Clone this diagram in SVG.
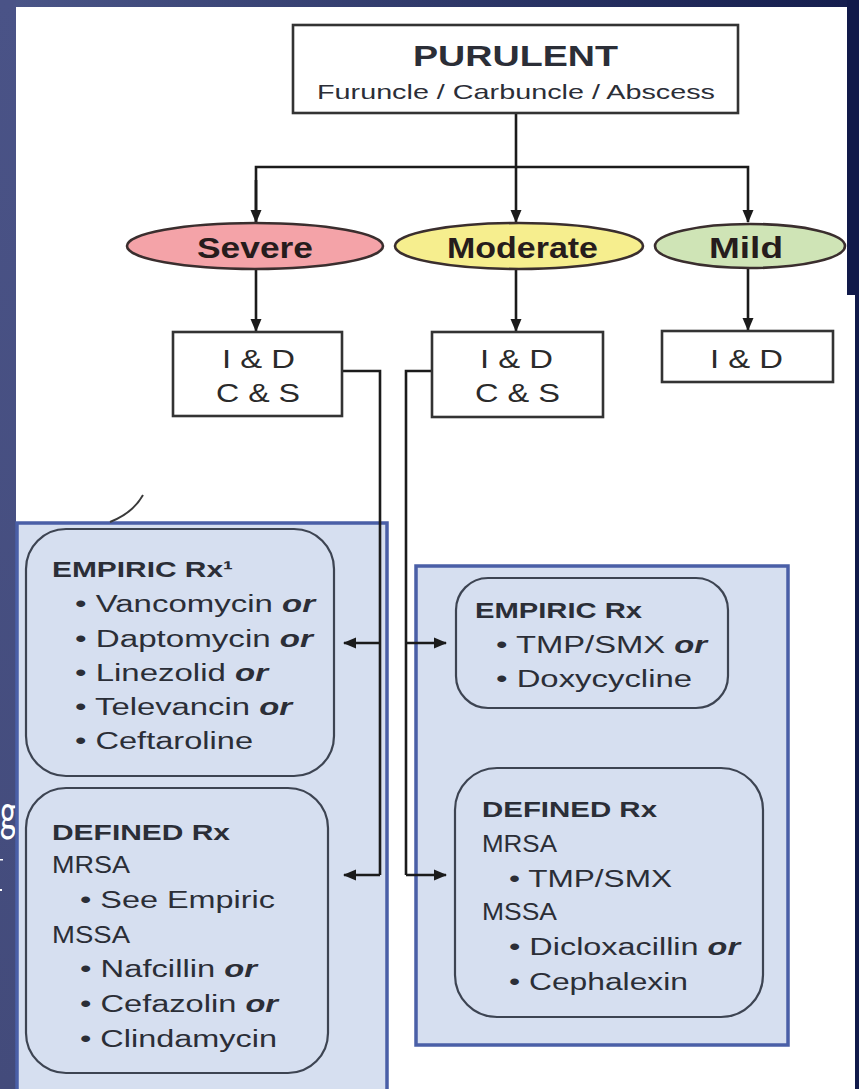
<svg xmlns="http://www.w3.org/2000/svg" width="859" height="1089" viewBox="0 0 859 1089">
  <defs>
    <style>
      .t { font-family: "Liberation Sans", Arial, Helvetica, sans-serif; fill: #2b2e37; }
      .body { font-size: 23px; }
      .hdr { font-size: 22px; font-weight: bold; }
      .or { font-weight: bold; font-style: italic; }
      .sev { font-size: 29px; font-weight: bold; fill: #261c1c; }
      .idt { font-size: 25px; fill: #2a2a2a; }
      .box { fill: #ffffff; stroke: #333333; stroke-width: 2.6; }
      .panel { fill: #d6dff0; stroke: #4a5fa7; stroke-width: 3.5; }
      .rx { fill: none; stroke: #3d4452; stroke-width: 2.2; }
      .wire { fill: none; stroke: #1b1b1b; stroke-width: 2.6; }
      .oval { stroke: #3a2e2e; stroke-width: 2.6; }
    </style>
    <marker id="ah" markerUnits="userSpaceOnUse" markerWidth="13" markerHeight="13" refX="12" refY="6.5" orient="auto">
      <path d="M0,1 L13,6.5 L0,12 Z" fill="#1b1b1b"/>
    </marker>
    <linearGradient id="topbar" x1="0" y1="0" x2="1" y2="0">
      <stop offset="0" stop-color="#4b5688"/>
      <stop offset="1" stop-color="#141d4d"/>
    </linearGradient>
    <linearGradient id="sidebar" x1="0" y1="0" x2="0" y2="1">
      <stop offset="0" stop-color="#4a5387"/>
      <stop offset="1" stop-color="#434b7b"/>
    </linearGradient>
  </defs>

  <!-- page and slide edges -->
  <rect x="0" y="0" width="859" height="1089" fill="#ffffff"/>
  <rect x="0" y="0" width="859" height="7" fill="url(#topbar)"/>
  <rect x="0" y="0" width="16" height="1089" fill="url(#sidebar)"/>
  <path d="M847,0 H859 V1089 H855 V295 H847 Z" fill="#111a4a"/>
  <text x="0" y="830" font-family="Lato, 'Liberation Sans', sans-serif" font-size="50" fill="#ffffff" textLength="16" lengthAdjust="spacingAndGlyphs">g</text>
  <rect x="0" y="859" width="3" height="1.5" fill="#ffffff"/>
  <rect x="0" y="889" width="2" height="2" fill="#ffffff"/>

  <!-- shaded treatment panels -->
  <rect id="panel-left" class="panel" x="17" y="523" width="370" height="600"/>
  <rect id="panel-right" class="panel" x="416" y="566" width="372" height="479"/>

  <!-- small curved stroke above the left panel -->
  <path d="M143,495 Q133,513 110,522" fill="none" stroke="#3a3a3a" stroke-width="2"/>

  <!-- connectors -->
  <g id="connectors">
    <path class="wire" d="M516,113 V222" marker-end="url(#ah)"/>
    <path class="wire" d="M256,222 V167 H748 V222" marker-end="url(#ah)"/>
    <path class="wire" d="M256,180 V222" marker-end="url(#ah)"/>
    <path class="wire" d="M256,269 V331" marker-end="url(#ah)"/>
    <path class="wire" d="M516,270 V331" marker-end="url(#ah)"/>
    <path class="wire" d="M748,268 V330" marker-end="url(#ah)"/>
    <path class="wire" d="M342,371 H380 V875"/>
    <path class="wire" d="M380,643 H344" marker-end="url(#ah)"/>
    <path class="wire" d="M380,875 H344" marker-end="url(#ah)"/>
    <path class="wire" d="M432,371 H406 V875"/>
    <path class="wire" d="M406,643 H446" marker-end="url(#ah)"/>
    <path class="wire" d="M406,875 H446" marker-end="url(#ah)"/>
  </g>

  <!-- root -->
  <g id="node-purulent">
    <rect class="box" x="293" y="25" width="445" height="88"/>
    <text class="t" x="413" y="66" font-size="30" font-weight="bold" fill="#1e1e1e" textLength="205" lengthAdjust="spacingAndGlyphs">PURULENT</text>
    <text class="t" x="317" y="99" font-size="21" fill="#3a3a3a" textLength="398" lengthAdjust="spacingAndGlyphs">Furuncle / Carbuncle / Abscess</text>
  </g>

  <!-- severity levels -->
  <g id="node-severe">
    <ellipse class="oval" cx="255" cy="246" rx="128" ry="23" fill="#f4a3a8"/>
    <text class="t sev" x="197" y="258" textLength="116" lengthAdjust="spacingAndGlyphs">Severe</text>
  </g>
  <g id="node-moderate">
    <ellipse class="oval" cx="519" cy="246" rx="124" ry="23" fill="#f6ee8e"/>
    <text class="t sev" x="447" y="258" textLength="151" lengthAdjust="spacingAndGlyphs">Moderate</text>
  </g>
  <g id="node-mild">
    <ellipse class="oval" cx="750" cy="246" rx="95" ry="22" fill="#cfe4b6"/>
    <text class="t sev" x="709" y="258" textLength="74" lengthAdjust="spacingAndGlyphs">Mild</text>
  </g>

  <!-- procedures -->
  <g id="node-severe-proc">
    <rect class="box" x="173" y="332" width="169" height="84"/>
    <text class="t idt" x="222" y="368" textLength="73" lengthAdjust="spacingAndGlyphs">I &amp; D</text>
    <text class="t idt" x="216" y="402" textLength="84" lengthAdjust="spacingAndGlyphs">C &amp; S</text>
  </g>
  <g id="node-moderate-proc">
    <rect class="box" x="432" y="332" width="171" height="85"/>
    <text class="t idt" x="480" y="368" textLength="73" lengthAdjust="spacingAndGlyphs">I &amp; D</text>
    <text class="t idt" x="475" y="402" textLength="85" lengthAdjust="spacingAndGlyphs">C &amp; S</text>
  </g>
  <g id="node-mild-proc">
    <rect class="box" x="662" y="331" width="171" height="51"/>
    <text class="t idt" x="710" y="368" textLength="73" lengthAdjust="spacingAndGlyphs">I &amp; D</text>
  </g>

  <!-- severe: empiric therapy -->
  <g id="node-severe-empiric">
    <rect class="rx" x="26" y="529" width="308" height="247" rx="40"/>
    <text class="t hdr" x="52" y="577" textLength="181" lengthAdjust="spacingAndGlyphs">EMPIRIC Rx¹</text>
    <text class="t body" x="75" y="612" textLength="240" lengthAdjust="spacingAndGlyphs">• Vancomycin <tspan class="or">or</tspan></text>
    <text class="t body" x="75" y="647" textLength="238" lengthAdjust="spacingAndGlyphs">• Daptomycin <tspan class="or">or</tspan></text>
    <text class="t body" x="75" y="681" textLength="193" lengthAdjust="spacingAndGlyphs">• Linezolid <tspan class="or">or</tspan></text>
    <text class="t body" x="75" y="715" textLength="217" lengthAdjust="spacingAndGlyphs">• Televancin <tspan class="or">or</tspan></text>
    <text class="t body" x="75" y="749" textLength="178" lengthAdjust="spacingAndGlyphs">• Ceftaroline</text>
  </g>

  <!-- severe: defined therapy -->
  <g id="node-severe-defined">
    <rect class="rx" x="26" y="788" width="302" height="285" rx="40"/>
    <text class="t hdr" x="52" y="840" textLength="178" lengthAdjust="spacingAndGlyphs">DEFINED Rx</text>
    <text class="t body" x="52" y="873" textLength="78" lengthAdjust="spacingAndGlyphs">MRSA</text>
    <text class="t body" x="80" y="908" textLength="195" lengthAdjust="spacingAndGlyphs">• See Empiric</text>
    <text class="t body" x="52" y="943" textLength="78" lengthAdjust="spacingAndGlyphs">MSSA</text>
    <text class="t body" x="80" y="977" textLength="177" lengthAdjust="spacingAndGlyphs">• Nafcillin <tspan class="or">or</tspan></text>
    <text class="t body" x="80" y="1012" textLength="198" lengthAdjust="spacingAndGlyphs">• Cefazolin <tspan class="or">or</tspan></text>
    <text class="t body" x="80" y="1047" textLength="197" lengthAdjust="spacingAndGlyphs">• Clindamycin</text>
  </g>

  <!-- moderate: empiric therapy -->
  <g id="node-moderate-empiric">
    <rect class="rx" x="456" y="578" width="272" height="130" rx="32"/>
    <text class="t hdr" x="475" y="618" textLength="167" lengthAdjust="spacingAndGlyphs">EMPIRIC Rx</text>
    <text class="t body" x="496" y="653" textLength="211" lengthAdjust="spacingAndGlyphs">• TMP/SMX <tspan class="or">or</tspan></text>
    <text class="t body" x="496" y="687" textLength="196" lengthAdjust="spacingAndGlyphs">• Doxycycline</text>
  </g>

  <!-- moderate: defined therapy -->
  <g id="node-moderate-defined">
    <rect class="rx" x="455" y="768" width="308" height="249" rx="42"/>
    <text class="t hdr" x="482" y="817" textLength="175" lengthAdjust="spacingAndGlyphs">DEFINED Rx</text>
    <text class="t body" x="482" y="852" textLength="75" lengthAdjust="spacingAndGlyphs">MRSA</text>
    <text class="t body" x="509" y="887" textLength="163" lengthAdjust="spacingAndGlyphs">• TMP/SMX</text>
    <text class="t body" x="482" y="920" textLength="75" lengthAdjust="spacingAndGlyphs">MSSA</text>
    <text class="t body" x="509" y="955" textLength="231" lengthAdjust="spacingAndGlyphs">• Dicloxacillin <tspan class="or">or</tspan></text>
    <text class="t body" x="509" y="990" textLength="179" lengthAdjust="spacingAndGlyphs">• Cephalexin</text>
  </g>
</svg>
